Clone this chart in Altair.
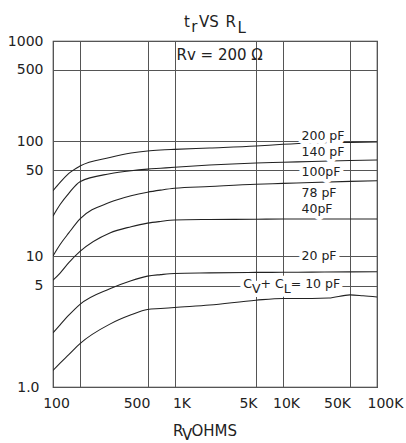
import altair as alt
import pandas as pd

# ---- data -------------------------------------------------------------------
r_load = [100, 120, 150, 200, 300, 400, 500, 700, 1000, 2000, 5000, 10000, 20000, 50000, 100000]
tr_200pf = [33.9, 39.6, 46.9, 55.0, 67.4, 75.0, 78.7, 80.5, 81.8, 84.6, 88.7, 92.4, 95.3, 96.7, 97.6]
tr_140pf = [21.1, 26.2, 32.3, 40.2, 46.6, 49.3, 51.0, 52.1, 53.3, 56.3, 59.1, 60.1, 61.3, 62.7, 63.5]
tr_100pf = [10.0, 12.4, 15.4, 20.0, 27.3, 30.9, 33.0, 34.3, 35.5, 36.7, 38.3, 38.9, 39.6, 40.4, 40.9]
tr_40pf = [5.67, 6.70, 8.55, 10.9, 15.4, 17.3, 18.5, 19.1, 19.6, 19.8, 19.9, 20.0, 20.0, 20.0, 20.0]
tr_20pf = [2.36, 2.68, 3.12, 3.71, 4.75, 5.60, 6.23, 6.46, 6.64, 6.72, 6.80, 6.82, 6.85, 6.89, 6.90]
r_load_10 = [100, 120, 150, 200, 300, 400, 500, 700, 1000, 2000, 5000, 10000, 20000, 30000, 50000, 70000, 100000]
tr_10pf = [1.30, 1.46, 1.67, 1.99, 2.71, 3.14, 3.42, 3.47, 3.53, 3.67, 3.96, 4.07, 4.07, 4.10, 4.31, 4.25, 4.17]

curve_labels = ["200 pF", "140 pF", "100pF", "78 pF", "40pF", "20 pF"]
curve_label_r = [15600, 15600, 15600, 15600, 15600, 15600]
curve_label_t = [113, 76.9, 48.3, 32.8, 24.3, 10.0]

x_ticks = [100, 200, 500, 1000, 5000, 10000, 50000, 100000]
y_ticks = [1, 5, 10, 50, 100, 500, 1000]

# ---- tables -----------------------------------------------------------------
rows = []
for name, ys in [("200", tr_200pf), ("140", tr_140pf), ("100", tr_100pf),
                 ("40", tr_40pf), ("20", tr_20pf)]:
    for xv, yv in zip(r_load, ys):
        rows.append({"series": name, "r": xv, "t": yv})
for xv, yv in zip(r_load_10, tr_10pf):
    rows.append({"series": "10", "r": xv, "t": yv})
curves_df = pd.DataFrame(rows)
labels_df = pd.DataFrame({"label": curve_labels, "r": curve_label_r, "t": curve_label_t})
cv_df = pd.DataFrame({"r": [3890], "t": [5.24]})
rv_df = pd.DataFrame({"r": [1040], "t": [707], "label": ["Rv = 200 \u03a9"]})

FONT = "DejaVu Sans"
INK = "#222222"
W, H = 324, 346

x_scale = alt.Scale(type="log", domain=x_ticks,
                    range=[0, 27, 94.5, 121.5, 203, 230, 297, 324], nice=False)
y_scale = alt.Scale(type="log", domain=y_ticks,
                    range=[346, 244.5, 215, 129, 100, 28.5, 0], nice=False)

x_axis = alt.Axis(values=x_ticks, title=None, grid=True, ticks=False, tickSize=0,
                  domain=False, gridColor="#555555", gridWidth=1, gridOpacity=1,
                  labelFont=FONT, labelFontSize=14, labelColor=INK, labelPadding=9,
                  labelBaseline="top", labelFlush=False, labelOverlap=False,
                  labelExpr="datum.value == 200 ? '' : (datum.value >= 1000 ? (datum.value / 1000) + 'K' : datum.value + '')",
                  labelOffset=alt.ExprRef(expr="datum.value == 100 ? 3 : datum.value == 500 ? -11 : datum.value == 1000 ? 7 : datum.value == 5000 ? -8 : datum.value == 10000 ? 3 : datum.value == 50000 ? -13 : datum.value == 100000 ? 8 : 0"))
y_axis = alt.Axis(values=y_ticks, title=None, grid=True, ticks=False, tickSize=0,
                  domain=False, gridColor="#555555", gridWidth=1, gridOpacity=1,
                  labelFont=FONT, labelFontSize=14, labelColor=INK,
                  labelFlush=False, labelOverlap=False,
                  labelPadding=alt.ExprRef(expr="datum.value == 1 ? 14 : 10"),
                  labelExpr="datum.value == 1 ? '1.0' : datum.value + ''")

xe = alt.X("r:Q", scale=x_scale, axis=x_axis)
ye = alt.Y("t:Q", scale=y_scale, axis=y_axis)

curves = alt.Chart(curves_df).mark_line(
    color=INK, strokeWidth=1.1, interpolate="monotone", clip=True
).encode(x=xe, y=ye, detail="series:N")

halo = alt.Chart(labels_df).mark_text(
    font=FONT, fontSize=12.5, align="left", baseline="middle",
    stroke="white", strokeWidth=8, fill="white", strokeJoin="round"
).encode(x=xe, y=ye, text="label:N")
lab = alt.Chart(labels_df).mark_text(
    font=FONT, fontSize=12.5, align="left", baseline="middle", color=INK
).encode(x=xe, y=ye, text="label:N")

# C_V + C_L = 10 pF label with subscripts
cv_parts = [("C", 0, 0), ("V", 8.7, 5), ("+ C", 17.2, 0), ("L", 40.4, 5), ("= 10 pF", 47.4, 0)]
cv_layers = []
for txt, dx, dy in cv_parts:
    cv_layers.append(alt.Chart(cv_df).mark_text(
        font=FONT, fontSize=12.5, align="left", baseline="middle", dx=dx, dy=dy,
        stroke="white", strokeWidth=8, fill="white", strokeJoin="round", text=txt
    ).encode(x=xe, y=ye))
for txt, dx, dy in cv_parts:
    cv_layers.append(alt.Chart(cv_df).mark_text(
        font=FONT, fontSize=12.5, align="left", baseline="middle", dx=dx, dy=dy,
        color=INK, text=txt
    ).encode(x=xe, y=ye))

rv = alt.Chart(rv_df).mark_text(
    font=FONT, fontSize=15, align="left", baseline="middle", color=INK
).encode(x=xe, y=ye, text="label:N")

# title t_r VS R_L and axis title R_V OHMS (subscripts as lowered pieces)
one = pd.DataFrame({"k": [0]})
def piece(txt, px, py, size=15):
    return alt.Chart(one).mark_text(
        font=FONT, fontSize=size, align="left", baseline="alphabetic",
        color=INK, text=txt, clip=False
    ).encode(x=alt.value(px), y=alt.value(py))

title_parts = [piece("t", 131, -14.5), piece("r", 138.2, -9), piece("VS", 146, -14.5),
               piece("R", 172.5, -14.5), piece("L", 184.5, -8.5)]
xtitle_parts = [piece("R", 120, 394.5), piece("V", 129, 398.5), piece("OHMS", 138.5, 394.5)]

chart = alt.layer(curves, halo, lab, *cv_layers, rv, *title_parts, *xtitle_parts).properties(
    width=W, height=H,
    autosize=alt.AutoSizeParams(type="none"),
    padding={"left": 53, "top": 41, "right": 29, "bottom": 56},
    background="white",
).configure_view(stroke="#333333", strokeWidth=1.2)

chart.save("out.html", embed_options={"renderer": "svg", "actions": False})
